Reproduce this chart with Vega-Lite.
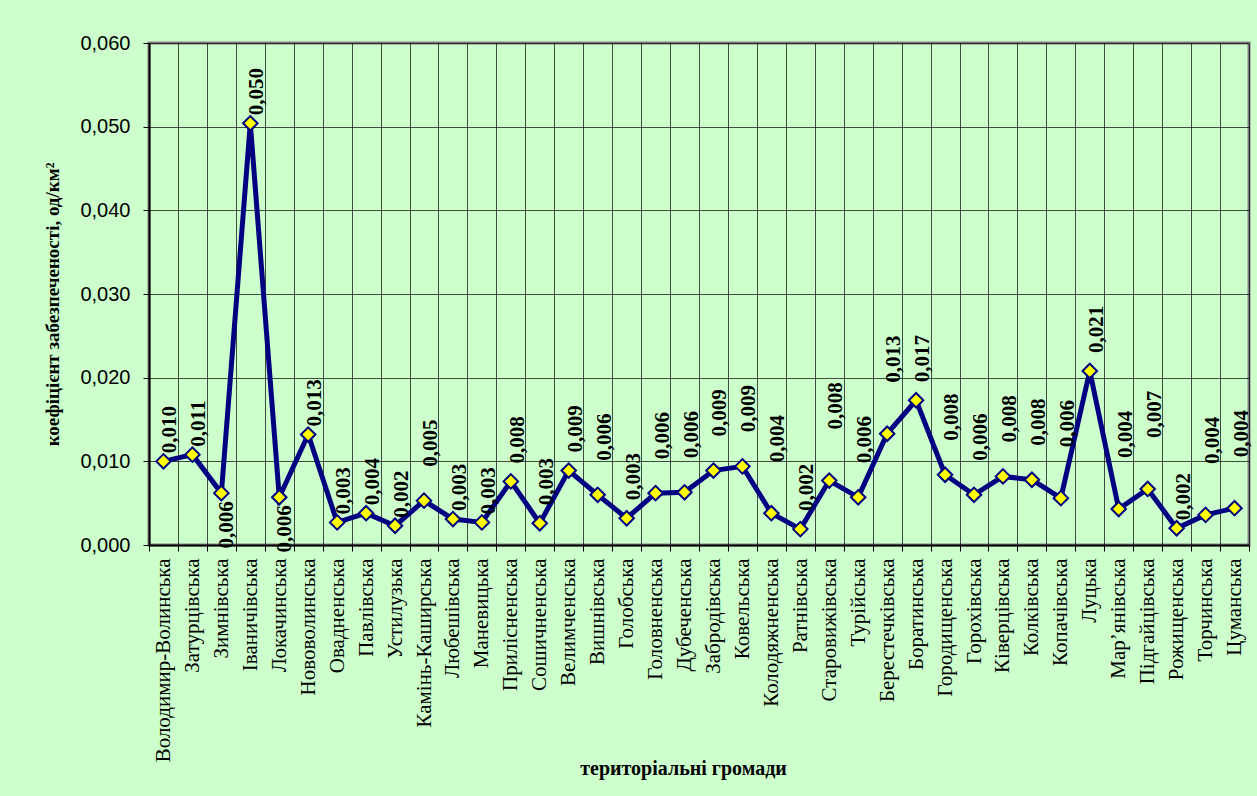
{
  "$schema": "https://vega.github.io/schema/vega-lite/v6.json",
  "width": 1100,
  "height": 502,
  "autosize": {"type": "none"},
  "padding": {"left": 149, "top": 43, "right": 8, "bottom": 251},
  "background": "#CCFFCC",
  "config": {
    "locale": {"number": {"decimal": ",", "thousands": " ", "grouping": [3], "currency": ["", ""]}},
    "view": {"stroke": "#808080", "strokeWidth": 3}
  },
  "data": {
    "values": [
      {"g": "Володимир-Волинська", "v": 0.0100},
      {"g": "Затурцівська", "v": 0.0108},
      {"g": "Зимнівська", "v": 0.0062},
      {"g": "Іваничівська", "v": 0.0504},
      {"g": "Локачинська", "v": 0.0057},
      {"g": "Нововолинська", "v": 0.0132},
      {"g": "Овадненська", "v": 0.0027},
      {"g": "Павлівська", "v": 0.0038},
      {"g": "Устилузька", "v": 0.0023},
      {"g": "Камінь-Каширська", "v": 0.0053},
      {"g": "Любешівська", "v": 0.0031},
      {"g": "Маневицька", "v": 0.0027},
      {"g": "Прилісненська", "v": 0.0076},
      {"g": "Сошичненська", "v": 0.0026},
      {"g": "Велимченська", "v": 0.0089},
      {"g": "Вишнівська", "v": 0.0060},
      {"g": "Голобська", "v": 0.0032},
      {"g": "Головненська", "v": 0.0062},
      {"g": "Дубеченська", "v": 0.0063},
      {"g": "Забродівська", "v": 0.0089},
      {"g": "Ковельська", "v": 0.0094},
      {"g": "Колодяжненська", "v": 0.0038},
      {"g": "Ратнівська", "v": 0.0019},
      {"g": "Старовижівська", "v": 0.0077},
      {"g": "Турійська", "v": 0.0057},
      {"g": "Берестечківська", "v": 0.0133},
      {"g": "Боратинська", "v": 0.0173},
      {"g": "Городищенська", "v": 0.0084},
      {"g": "Горохівська", "v": 0.0060},
      {"g": "Ківерцівська", "v": 0.0082},
      {"g": "Колківська", "v": 0.0078},
      {"g": "Копачівська", "v": 0.0056},
      {"g": "Луцька", "v": 0.0208},
      {"g": "Мар’янівська", "v": 0.0043},
      {"g": "Підгайцівська", "v": 0.0067},
      {"g": "Рожищенська", "v": 0.0020},
      {"g": "Торчинська", "v": 0.0036},
      {"g": "Цуманська", "v": 0.0044}
    ]
  },
  "encoding": {
    "x": {
      "field": "g",
      "type": "nominal",
      "bandPosition": 0.5,
      "scale": {
        "type": "band",
        "paddingInner": 0,
        "paddingOuter": 0,
        "domain": ["Володимир-Волинська", "Затурцівська", "Зимнівська", "Іваничівська", "Локачинська", "Нововолинська", "Овадненська", "Павлівська", "Устилузька", "Камінь-Каширська", "Любешівська", "Маневицька", "Прилісненська", "Сошичненська", "Велимченська", "Вишнівська", "Голобська", "Головненська", "Дубеченська", "Забродівська", "Ковельська", "Колодяжненська", "Ратнівська", "Старовижівська", "Турійська", "Берестечківська", "Боратинська", "Городищенська", "Горохівська", "Ківерцівська", "Колківська", "Копачівська", "Луцька", "Мар’янівська", "Підгайцівська", "Рожищенська", "Торчинська", "Цуманська"]
      },
      "axis": {
        "title": "територіальні громади",
        "titleFont": "Liberation Serif",
        "titleFontWeight": "bold",
        "titleFontSize": 20,
        "titleColor": "#000000",
        "titleX": 534,
        "titleY": 229,
        "titleAlign": "center",
        "titleBaseline": "alphabetic",
        "labelAngle": 270,
        "labelAlign": "right",
        "labelBaseline": "middle",
        "labelFont": "Liberation Serif",
        "labelFontSize": 21,
        "labelColor": "#000000",
        "labelPadding": 7,
        "labelOverlap": false,
        "labelLimit": 0,
        "tickBand": "extent",
        "tickSize": 6,
        "tickColor": "#000000",
        "domainColor": "#000000",
        "domainWidth": 2,
        "grid": true,
        "gridColor": "#000000",
        "gridOpacity": 0.7,
        "gridWidth": 1
      }
    },
    "y": {
      "field": "v",
      "type": "quantitative",
      "scale": {"domain": [0, 0.06], "nice": false, "zero": true},
      "axis": {
        "title": "коефіцієнт забезпеченості, од/км²",
        "titleFont": "Liberation Serif",
        "titleFontWeight": "bold",
        "titleFontSize": 19,
        "titleColor": "#000000",
        "titleAngle": 270,
        "titleX": -97,
        "titleY": 261,
        "titleAlign": "center",
        "titleBaseline": "middle",
        "values": [0, 0.01, 0.02, 0.03, 0.04, 0.05, 0.06],
        "format": ".3f",
        "labelFont": "Liberation Sans",
        "labelFontSize": 20,
        "labelColor": "#000000",
        "labelPadding": 13,
        "tickSize": 6,
        "tickColor": "#000000",
        "domainColor": "#000000",
        "domainWidth": 2,
        "grid": true,
        "gridColor": "#000000",
        "gridOpacity": 0.7,
        "gridWidth": 1
      }
    }
  },
  "layer": [
    {"mark": {"type": "line", "color": "#000080", "strokeWidth": 5}},
    {"mark": {"type": "point", "shape": "diamond", "filled": true, "fill": "#FFFF00", "stroke": "#000080", "strokeWidth": 2, "size": 210, "opacity": 1}},
    {
      "transform": [{"filter": {"field": "g", "oneOf": ["Володимир-Волинська", "Затурцівська", "Іваничівська", "Нововолинська", "Овадненська", "Павлівська", "Устилузька", "Любешівська", "Маневицька", "Рожищенська"]}}],
      "mark": {"type": "text", "angle": 270, "align": "left", "baseline": "middle", "dx": 8, "dy": 7, "font": "Liberation Serif", "fontWeight": "bold", "fontSize": 21, "color": "#000000"},
      "encoding": {"text": {"field": "v", "type": "quantitative", "format": ".3f"}}
    },
    {
      "transform": [{"filter": {"field": "g", "oneOf": ["Прилісненська", "Голобська", "Ратнівська", "Луцька", "Велимченська", "Сошичненська", "Боратинська"]}}],
      "mark": {"type": "text", "angle": 270, "align": "left", "baseline": "middle", "dx": 18, "dy": 7, "font": "Liberation Serif", "fontWeight": "bold", "fontSize": 21, "color": "#000000"},
      "encoding": {"text": {"field": "v", "type": "quantitative", "format": ".3f"}}
    },
    {
      "transform": [{"filter": {"field": "g", "oneOf": ["Камінь-Каширська", "Вишнівська", "Головненська", "Дубеченська", "Забродівська", "Ковельська", "Турійська", "Городищенська", "Горохівська", "Ківерцівська", "Колківська"]}}],
      "mark": {"type": "text", "angle": 270, "align": "left", "baseline": "middle", "dx": 34, "dy": 7, "font": "Liberation Serif", "fontWeight": "bold", "fontSize": 21, "color": "#000000"},
      "encoding": {"text": {"field": "v", "type": "quantitative", "format": ".3f"}}
    },
    {
      "transform": [{"filter": {"field": "g", "oneOf": ["Колодяжненська", "Старовижівська", "Берестечківська", "Копачівська", "Мар’янівська", "Підгайцівська", "Торчинська", "Цуманська"]}}],
      "mark": {"type": "text", "angle": 270, "align": "left", "baseline": "middle", "dx": 51, "dy": 7, "font": "Liberation Serif", "fontWeight": "bold", "fontSize": 21, "color": "#000000"},
      "encoding": {"text": {"field": "v", "type": "quantitative", "format": ".3f"}}
    },
    {
      "transform": [{"filter": {"field": "g", "oneOf": ["Зимнівська", "Локачинська"]}}],
      "mark": {"type": "text", "angle": 270, "align": "right", "baseline": "middle", "dx": -8, "dy": 6, "font": "Liberation Serif", "fontWeight": "bold", "fontSize": 21, "color": "#000000"},
      "encoding": {"text": {"field": "v", "type": "quantitative", "format": ".3f"}}
    }
  ]
}
